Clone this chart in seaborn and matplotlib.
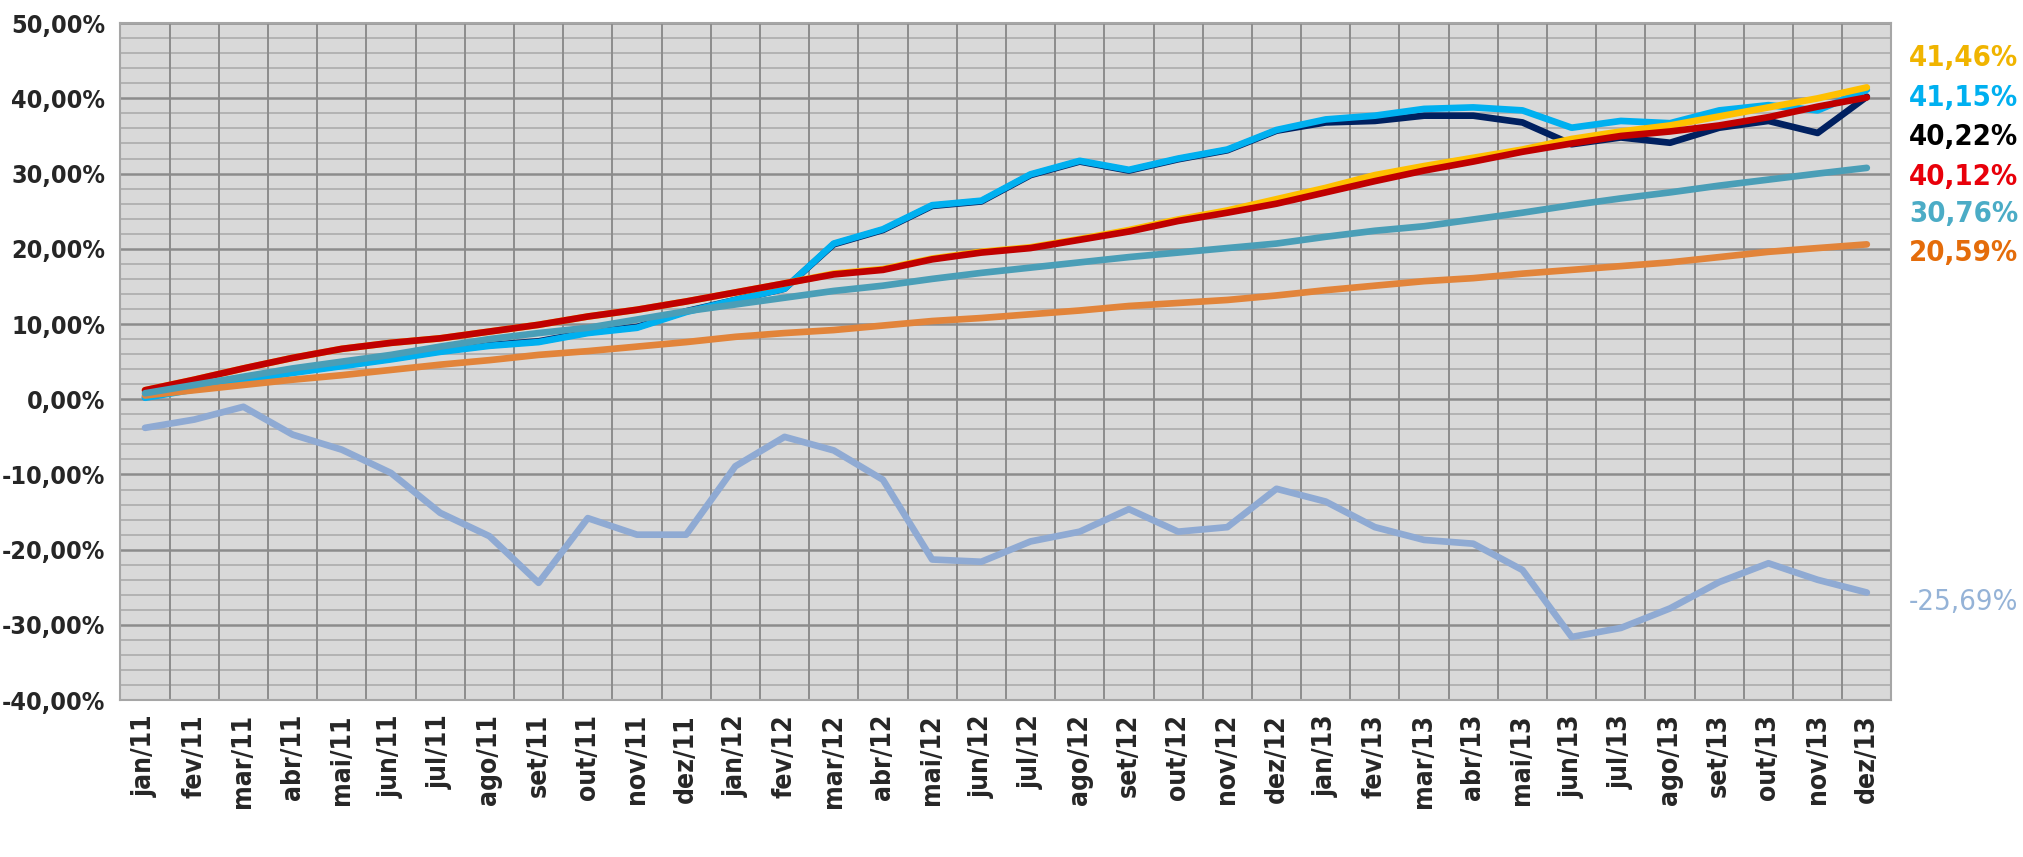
import pandas as pd
import matplotlib
matplotlib.use("Agg")
import matplotlib.pyplot as plt
import seaborn as sns
from matplotlib.ticker import FuncFormatter, MultipleLocator

# month labels
months = ["jan/11", "fev/11", "mar/11", "abr/11", "mai/11", "jun/11", "jul/11", "ago/11",
          "set/11", "out/11", "nov/11", "dez/11", "jan/12", "fev/12", "mar/12", "abr/12",
          "mai/12", "jun/12", "jul/12", "ago/12", "set/12", "out/12", "nov/12", "dez/12",
          "jan/13", "fev/13", "mar/13", "abr/13", "mai/13", "jun/13", "jul/13", "ago/13",
          "set/13", "out/13", "nov/13", "dez/13"]

# accumulated returns (%)
rent_misto = [0.3, 1.4, 2.6, 3.6, 4.5, 5.4, 6.4, 7.2, 7.7, 8.9, 9.6, 11.7,
              13.2, 14.7, 20.6, 22.5, 25.7, 26.3, 29.8, 31.6, 30.4, 31.9, 33.1, 35.7,
              36.8, 37.0, 37.7, 37.7, 36.8, 33.9, 34.8, 34.1, 36.1, 37.0, 35.4, 40.22]
rent_trans = [0.2, 1.3, 2.5, 3.5, 4.4, 5.3, 6.3, 7.1, 7.6, 8.8, 9.5, 11.6,
              13.2, 14.7, 20.7, 22.6, 25.8, 26.4, 29.9, 31.7, 30.5, 32.0, 33.2, 35.8,
              37.2, 37.7, 38.6, 38.8, 38.4, 36.1, 37.0, 36.7, 38.4, 39.1, 38.4, 41.15]
meta_trans = [1.2, 2.6, 4.1, 5.5, 6.7, 7.5, 8.1, 9.0, 9.9, 11.0, 11.9, 13.0,
              14.2, 15.4, 16.7, 17.3, 18.7, 19.6, 20.2, 21.3, 22.5, 23.9, 25.1, 26.6,
              28.1, 29.8, 31.0, 32.1, 33.2, 34.6, 35.6, 36.4, 37.6, 38.8, 40.0, 41.46]
meta_misto = [1.2, 2.6, 4.1, 5.5, 6.7, 7.5, 8.1, 9.0, 9.9, 11.0, 11.9, 13.0,
              14.2, 15.4, 16.6, 17.2, 18.6, 19.5, 20.1, 21.2, 22.3, 23.7, 24.8, 26.0,
              27.5, 29.0, 30.4, 31.6, 32.9, 34.0, 35.0, 35.6, 36.4, 37.5, 38.9, 40.12]
poupanca = [0.5, 1.2, 1.9, 2.6, 3.2, 3.9, 4.6, 5.2, 5.9, 6.4, 7.0, 7.6,
            8.3, 8.8, 9.2, 9.8, 10.4, 10.8, 11.3, 11.8, 12.4, 12.8, 13.2, 13.8,
            14.5, 15.1, 15.7, 16.1, 16.7, 17.2, 17.7, 18.2, 18.9, 19.6, 20.1, 20.59]
ibovespa = [-3.8, -2.7, -1.0, -4.7, -6.7, -9.8, -15.1, -18.2, -24.4, -15.8, -18.0, -18.0,
            -8.9, -5.0, -6.8, -10.7, -21.3, -21.6, -18.9, -17.6, -14.6, -17.6, -17.0, -11.9,
            -13.6, -17.0, -18.7, -19.2, -22.7, -31.6, -30.4, -27.8, -24.3, -21.8, -24.0, -25.69]
cdi = [0.8, 1.9, 3.0, 4.1, 5.0, 5.9, 7.0, 8.0, 8.8, 9.5, 10.6, 11.7,
       12.6, 13.5, 14.4, 15.1, 16.0, 16.8, 17.5, 18.2, 18.9, 19.5, 20.1, 20.7,
       21.6, 22.4, 23.0, 23.9, 24.8, 25.8, 26.7, 27.5, 28.4, 29.2, 30.0, 30.76]

series_names = ["Rentabilidade - Misto", "Rentabilidade - Transitório", "Meta -Transitório",
                "Meta - Misto", "Poupança", "Ibovespa", "CDI"]
series_vals = [rent_misto, rent_trans, meta_trans, meta_misto, poupanca, ibovespa, cdi]
colors = ["#002060", "#00B0F0", "#FFC000", "#C00000", "#E2843A", "#8FAAD3", "#4A9EB7"]

# end labels (text, colour, y position in data units)
end_labels = ["41,46%", "41,15%", "40,22%", "40,12%", "30,76%", "20,59%", "-25,69%"]
end_colors = ["#F0B400", "#00B0F0", "#000000", "#E8000A", "#4BACC6", "#E46C0A", "#95B3D7"]
end_y = [45.4, 40.1, 34.9, 29.6, 24.6, 19.4, -27.0]

rows = []
for name, vals in zip(series_names, series_vals):
    for i, v in enumerate(vals):
        rows.append({"x": i, "val": v, "serie": name})
df = pd.DataFrame(rows)

sns.set_style("white")
plt.rcParams["font.family"] = ["DejaVu Sans"]
plt.rcParams["font.stretch"] = "condensed"

fig = plt.figure(figsize=(20.24, 8.57), dpi=100)
ax = fig.add_axes([0.0595, 0.183, 0.875, 0.79])
ax.set_facecolor("#D9D9D9")

g = sns.lineplot(data=df, x="x", y="val", hue="serie", hue_order=series_names,
                 palette=colors, linewidth=4.8, ax=ax, legend=True, zorder=3)

ax.set_xlim(-0.5, 35.5)
ax.set_ylim(-40, 50)
ax.yaxis.set_major_locator(MultipleLocator(10))
ax.yaxis.set_minor_locator(MultipleLocator(2))
ax.yaxis.set_major_formatter(FuncFormatter(lambda v, p: ("%.2f%%" % v).replace(".", ",")))
ax.set_xticks(range(36))
ax.set_xticklabels(months, rotation=90, fontsize=19, fontweight="bold")
for t in ax.get_yticklabels():
    t.set_fontsize(18)
    t.set_fontweight("bold")

# grid: minor horizontal, major horizontal, vertical at category borders
ax.grid(which="minor", axis="y", color="#B2B2B2", linewidth=1.4, zorder=0)
ax.grid(which="major", axis="y", color="#8C8C8C", linewidth=1.8, zorder=0)
for b in range(1, 36):
    ax.axvline(b - 0.5, color="#8C8C8C", linewidth=1.4, zorder=1)
ax.set_axisbelow(True)

ax.tick_params(axis="y", which="major", length=8, color="#8C8C8C", width=1.5, pad=3)
ax.tick_params(axis="y", which="minor", length=0)
ax.tick_params(axis="x", length=0, pad=10)
for s in ax.spines.values():
    s.set_color("#A6A6A6")
    s.set_linewidth(1.5)

ax.set_xlabel("")
ax.set_ylabel("")

for txt, c, y in zip(end_labels, end_colors, end_y):
    w = "normal" if txt.startswith("-") else "bold"
    ax.text(1.010, (y + 40) / 90, txt, transform=ax.transAxes, color=c,
            fontsize=21, fontweight=w, va="center", ha="left")

# legend in figure coordinates, near the bottom edge
handles, labels = ax.get_legend_handles_labels()
ax.get_legend().remove()
leg = fig.legend(handles[:7], labels[:7], loc="lower center", bbox_to_anchor=(0.523, -0.04),
                 bbox_transform=fig.transFigure, ncol=7, frameon=False,
                 handlelength=1.5, handletextpad=0.15, columnspacing=0.4,
                 borderpad=0.0, borderaxespad=0.0, prop={"size": 20, "weight": "bold"})
for line in leg.get_lines():
    line.set_linewidth(6)

fig.savefig("out.png", dpi=100)
